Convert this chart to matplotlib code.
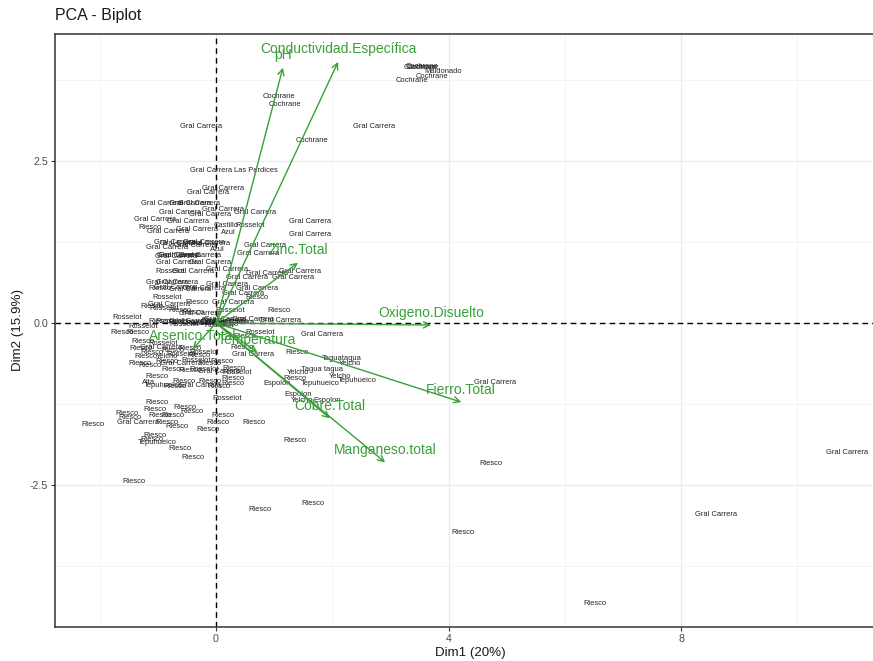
import matplotlib
matplotlib.use("Agg")
import matplotlib.pyplot as plt
from matplotlib.ticker import FixedLocator

plt.rcParams["font.family"] = ["Liberation Sans", "DejaVu Sans"]

# ---- individuals (PCA scores) ----
ind_names = [
    # far points
    "Gral Carrera", "Gral Carrera", "Riesco", "Riesco", "Riesco", "Gral Carrera",
    "Riesco", "Riesco", "Riesco", "Riesco", "Riesco", "Riesco", "Riesco",
    # upper group
    "Cochrane", "Cochrane", "Cochrane", "Maldonado", "Cochrane", "Cochrane",
    "Cochrane", "Cochrane", "Gral Carrera", "Gral Carrera", "Cochrane",
    "Las Perdices", "Gral Carrera", "Gral Carrera", "Gral Carrera",
    # upper-left cluster
    "Gral Carrera", "Gral Carrera", "Gral Carrera", "Gral Carrera", "Gral Carrera",
    "Gral Carrera", "Gral Carrera", "Gral Carrera", "Gral Carrera", "Riesco",
    "Castillo", "Rosselot", "Gral Carrera", "Gral Carrera", "Azul",
    "Gral Carrera", "Gral Carrera", "Gral Carrera", "Gral Carrera",
    # band above origin
    "Gral Carrera", "Gral Carrera", "Gral Carrera", "Gral Carrera", "Gral Carrera",
    "Gral Carrera", "Azul", "Gral Carrera", "Gral Carrera", "Gral Carrera",
    "Gral Carrera", "Gral Carrera", "Gral Carrera", "Rosselot", "Gral Carrera",
    "Gral Carrera", "Gral Carrera", "Gral Carrera", "Gral Carrera", "Gral Carrera",
    "Gral Carrera", "Gral Carrera", "Gral Carrera", "Riesco", "Gral Carrera",
    "Gral Carrera", "Gral Carrera", "Gral Carrera", "Gral Carrera", "Gral Carrera",
    "Riesco", "Rosselot", "Riesco", "Gral Carrera", "Riesco", "Rosselot",
    "Riesco", "Riesco", "Gral Carrera", "Rosselot", "Riesco", "Rosselot",
    "Gral Carrera", "Gral Carrera",
    # around the origin
    "Riesco", "Rosselot", "Riesco", "Gral Carrera", "Riesco", "Gral Carrera",
    "Rosselot", "Riesco", "Gral Carrera", "Riesco", "Gral Carrera", "Rosselot",
    "Riesco", "Gral Carrera", "Riesco", "Rosselot", "Rosselot",
    # below the origin
    "Riesco", "Riesco", "Riesco", "Rosselot", "Riesco", "Riesco", "Gral Carrera",
    "Riesco", "Rosselot", "Riesco", "Riesco", "Yelcho", "Riesco", "Rosselot",
    "Riesco", "Gral Carrera", "Riesco", "Gral Carrera", "Rosselot", "Riesco",
    "Riesco", "Riesco", "Riesco", "Gral Carrera", "Rosselot", "Riesco", "Riesco",
    "Riesco", "Riesco", "Rosselot", "Gral Carrera", "Riesco", "Rosselot",
    "Riesco", "Riesco", "Alta", "Tepuhueico", "Gral Carrera", "Riesco", "Riesco",
    "Riesco", "Riesco", "Riesco", "Rosselot",
    # lower right group
    "Taguatagua", "Yelcho", "Tagua tagua", "Yelcho", "Riesco", "Yelcho",
    "Tepuhueico", "Espolon", "Tepuhueico", "Espolon", "Espolon", "Yelcho",
    # lower left group
    "Riesco", "Riesco", "Riesco", "Riesco", "Riesco", "Riesco", "Riesco",
    "Riesco", "Gral Carrera", "Riesco", "Riesco", "Riesco", "Riesco", "Riesco",
    "Riesco", "Riesco", "Tepuhueico", "Riesco",
]

dim1 = [
    10.86, 8.61, 6.52, 4.25, 4.73, 4.80,
    1.67, 0.76, -1.41, -2.12, 1.36, 0.65, -0.40,
    3.51, 3.54, 3.56, 3.91, 3.72, 3.37,
    1.08, 1.19, 2.72, -0.26, 1.65,
    0.69, -0.09, 0.12, -0.14,
    -0.93, -0.45, -0.30, 0.12, 0.67,
    -0.62, -0.10, -1.05, -0.48, -1.14,
    0.17, 0.59, -0.83, -0.33, 0.21,
    0.84, 0.72, 1.62, 1.62,
    -0.84, -0.60, -0.36, -0.12, -0.70,
    -0.20, 0.03, -0.65, -0.62, -0.68,
    -0.28, -0.67, -0.10, -0.79, -0.40,
    0.19, 0.53, 0.88, 1.32, 1.45,
    -0.67, -0.84, -0.70, -0.96, -0.45,
    -0.20, 0.19, 0.71, 0.46, -0.80,
    0.71, -0.84, -0.33, 0.29, -1.10, -0.90,
    -0.62, -0.40, -0.28, 0.24, 1.08, -1.53,
    0.64, 1.10,
    -0.96, -0.79, -0.62, -0.45, -0.33, -0.20,
    -0.10, 0.00, 0.10, 0.19, 0.29, 0.05,
    -0.05, 0.15, 0.36, -0.55, -1.26,
    -1.62, -1.34, -1.26, -0.91, -1.30, -1.10, -0.95,
    -0.75, -0.60, -0.45, -1.20, -0.85, -0.30, -0.20,
    0.45, 0.64, 1.39, 1.82, 0.76, 0.50,
    -1.31, -1.14, -0.84, -0.60, -0.35, -0.10, 0.10,
    -0.75, -0.45, -0.20, 0.05, 0.30, 0.36,
    -1.02, 0.29, -1.16, -0.91, -0.28, 0.29, -0.55,
    -0.70, -0.10, 0.05, 0.19,
    2.17, 2.31, 1.82, 1.41, 1.36, 2.13,
    2.43, 1.05, 1.79, 1.41, 1.91, 1.48,
    -1.02, -1.53, -1.48, -1.05, -0.53, -0.41, -0.74,
    -0.96, -1.34, -0.84, -0.67, 0.12, 0.03, -0.14,
    -1.05, -1.10, -1.02, -0.62,
]

dim2 = [
    -1.99, -2.95, -4.32, -3.23, -2.16, -0.91,
    -2.78, -2.87, -2.45, -1.56, -1.81, -1.53, -2.08,
    3.95, 3.96, 3.95, 3.88, 3.80, 3.75,
    3.49, 3.38, 3.04, 3.04, 2.81,
    2.36, 2.35, 2.08, 2.02,
    1.84, 1.85, 1.84, 1.76, 1.71,
    1.70, 1.67, 1.60, 1.56, 1.48,
    1.51, 1.51, 1.42, 1.44, 1.39,
    1.20, 1.08, 1.57, 1.37,
    1.16, 1.22, 1.20, 1.22, 1.25,
    1.25, 1.13, 1.04, 1.05, 1.03,
    1.05, 0.93, 0.93, 0.79, 0.79,
    0.82, 0.71, 0.77, 0.71, 0.80,
    0.63, 0.62, 0.55, 0.54, 0.52,
    0.54, 0.59, 0.54, 0.46, 0.28,
    0.40, 0.39, 0.32, 0.31, 0.25, 0.22,
    0.20, 0.17, 0.15, 0.19, 0.19, 0.08,
    0.06, 0.04,
    0.03, 0.02, 0.01, 0.02, 0.00, 0.01,
    -0.01, 0.00, 0.02, -0.02, 0.01, -0.03,
    0.04, 0.05, 0.03, -0.02, -0.05,
    -0.15, -0.15, -0.29, -0.31, -0.40, -0.45, -0.38,
    -0.42, -0.48, -0.40, -0.52, -0.52, -0.50, -0.45,
    -0.37, -0.49, -0.46, -0.17, -0.15, -0.20,
    -0.62, -0.65, -0.60, -0.62, -0.58, -0.62, -0.60,
    -0.72, -0.73, -0.72, -0.74, -0.70, -0.76,
    -0.83, -0.85, -0.91, -0.96, -0.96, -0.93, -0.90,
    -0.98, -0.90, -0.98, -1.16,
    -0.54, -0.63, -0.71, -0.76, -0.86, -0.83,
    -0.88, -0.93, -0.94, -1.10, -1.20, -1.20,
    -1.22, -1.40, -1.45, -1.34, -1.30, -1.37, -1.42,
    -1.42, -1.54, -1.54, -1.60, -1.42, -1.53, -1.64,
    -1.73, -1.79, -1.85, -1.93,
]

# ---- variables (loadings) ----
var_names = ["pH", "Conductividad.Específica", "Zinc.Total", "Oxigeno.Disuelto",
             "Temperatura", "Arsenico.Total", "Fierro.Total", "Cobre.Total",
             "Manganeso.total"]
var_dim1 = [1.15, 2.10, 1.41, 3.70, 0.71, -0.40, 4.22, 1.96, 2.91]
var_dim2 = [3.94, 4.03, 0.93, -0.03, -0.45, -0.40, -1.22, -1.47, -2.15]

dim1_pct = 20
dim2_pct = 15.9

var_color = "#37a037"
ind_color = "#222222"

fig = plt.figure(figsize=(8.73, 6.61), dpi=100)
ax = fig.add_axes([55 / 873, 34 / 661, 830 / 873, 593.3 / 661])
ax.set_xlim(-2.771, 11.51)
ax.set_ylim(-4.69, 4.465)

# grid
ax.xaxis.set_major_locator(FixedLocator([0, 4, 8]))
ax.xaxis.set_minor_locator(FixedLocator([-2, 2, 6, 10]))
ax.yaxis.set_major_locator(FixedLocator([-2.5, 0, 2.5]))
ax.yaxis.set_minor_locator(FixedLocator([-3.75, -1.25, 1.25, 3.75]))
ax.set_yticklabels(["-2.5", "0.0", "2.5"])
ax.grid(which="major", color="#ebebeb", lw=0.9)
ax.grid(which="minor", color="#f2f2f2", lw=0.6)
ax.set_axisbelow(True)
ax.tick_params(which="minor", length=0)
ax.tick_params(which="major", length=3, width=0.8, color="#333333",
               labelsize=7.7, labelcolor="#4d4d4d", pad=2)
for s in ax.spines.values():
    s.set_color("#333333")
    s.set_linewidth(1.1)

# reference lines
ax.axhline(0, color="black", lw=1.0, ls=(0, (4, 3)), zorder=1)
ax.axvline(0, color="black", lw=1.0, ls=(0, (4, 3)), zorder=1)

# individuals as text labels
for name, x, y in zip(ind_names, dim1, dim2):
    ax.text(x, y, name, fontsize=5.4, color=ind_color, ha="center",
            va="center", zorder=3)

# variable arrows and labels
for name, x, y in zip(var_names, var_dim1, var_dim2):
    ax.annotate("", xy=(x, y), xytext=(0, 0),
                arrowprops=dict(arrowstyle="->", color=var_color, lw=1.0,
                                shrinkA=0, shrinkB=0, mutation_scale=11),
                zorder=4)
    ax.annotate(name, xy=(x, y), xytext=(0, 9), textcoords="offset points",
                ha="center", va="center", fontsize=10, color=var_color,
                zorder=5)

ax.set_xlabel(f"Dim1 ({dim1_pct}%)", fontsize=9.6, color="#1a1a1a", labelpad=2)
ax.set_ylabel(f"Dim2 ({dim2_pct}%)", fontsize=9.6, color="#1a1a1a", labelpad=4)
ax.set_title("PCA - Biplot", loc="left", fontsize=11.5, color="#1a1a1a", pad=10)

fig.savefig("out.png", dpi=100)
